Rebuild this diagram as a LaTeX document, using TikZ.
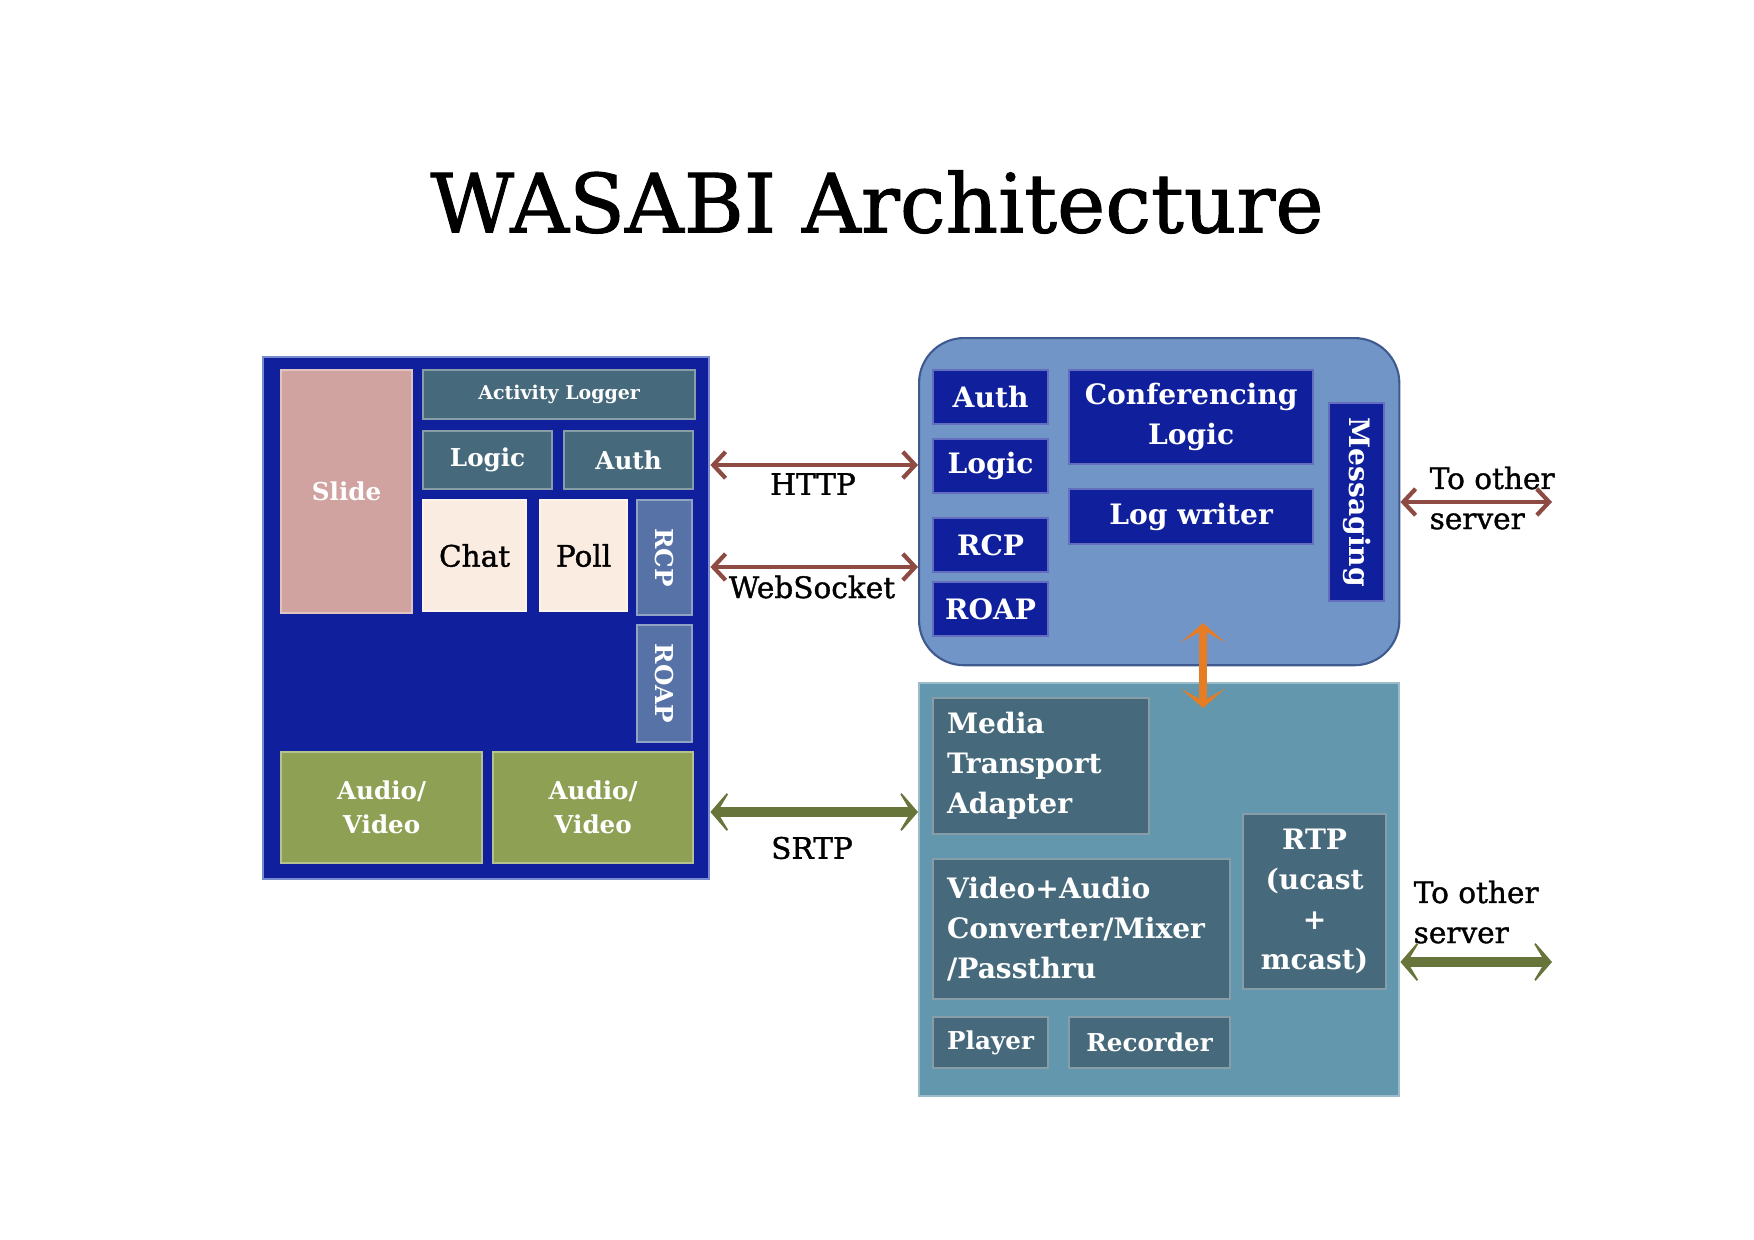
\documentclass[tikz,border=0pt]{standalone}
\usepackage{fontspec}
\setmainfont{DejaVu Serif}
\newfontfamily\heavyserif{DejaVu Serif}[FakeBold=1.2]
\usepackage{graphicx}
\usepackage{xcolor}
\usepackage{tikz}
\usetikzlibrary{arrows.meta, positioning}

\definecolor{clientblue}{RGB}{16,32,156}
\definecolor{clientedge}{RGB}{120,140,205}
\definecolor{slidepink}{RGB}{209,163,160}
\definecolor{slategrey}{RGB}{70,106,123}
\definecolor{chatcream}{RGB}{250,236,224}
\definecolor{protosteel}{RGB}{86,114,166}
\definecolor{avolive}{RGB}{142,160,84}
\definecolor{serverblue}{RGB}{114,149,199}
\definecolor{serveredge}{RGB}{62,90,142}
\definecolor{mediateal}{RGB}{98,151,173}
\definecolor{linkbrown}{RGB}{142,75,67}
\definecolor{linkgreen}{RGB}{104,117,58}
\definecolor{linkorange}{RGB}{230,124,36}

\newcommand{\lblbig}{\bfseries\fontsize{8}{11.4}\selectfont}
\newcommand{\lblmid}{\bfseries\fontsize{7}{9.6}\selectfont}
\newcommand{\lblsmall}{\bfseries\fontsize{5.4}{6.5}\selectfont}
\newcommand{\lbltext}{\heavyserif\fontsize{8.4}{11.4}\selectfont}

\tikzset{
	panel/.style={anchor=north west, inner sep=0pt, fill=#1, draw=#1!65!white, line width=0.6pt, text=white, font=\lblbig, align=center},
	weblink/.style={draw=linkbrown, line width=1.2pt, <->, >={Straight Barb[length=3.5pt,width=7.5pt]}},
	medialink/.style={draw=linkgreen, line width=2.8pt, <->, >={Stealth[length=6.5pt,width=15pt,inset=4.5pt]}},
	corelink/.style={draw=linkorange, line width=2.3pt, <->, >={Stealth[length=5.5pt,width=12.5pt,inset=3.5pt]}},
	linklbl/.style={inner sep=0pt, font=\lbltext, align=left}
}

\begin{document}
\begin{tikzpicture}[x=0.01cm, y=-0.01cm]
	\useasboundingbox (0,0) rectangle (1754,1239);
	% Title:
	\node[font=\heavyserif\fontsize{23.2}{28}\selectfont] (title) at (877,202) {WASABI Architecture};

	% Client side:
	\node[panel=clientblue, draw=clientedge, minimum width=4.46cm, minimum height=5.22cm] (client) at (262,356) {};
	\node[panel=slidepink, font=\lblmid, minimum width=1.31cm, minimum height=2.43cm] (slide) at (280,369) {Slide};
	\node[panel=slategrey, font=\lblsmall, minimum width=2.72cm, minimum height=0.49cm] (actlog) at (422,369) {Activity Logger};
	\node[panel=slategrey, font=\lblmid, minimum width=1.29cm, minimum height=0.58cm] (clogic) at (422,430) {Logic};
	\node[panel=slategrey, font=\lblmid, minimum width=1.29cm, minimum height=0.58cm] (cauth) at (563,430) {Auth};
	\node[panel=chatcream, text=black, font=\lbltext, minimum width=1.03cm, minimum height=1.11cm] (chat) at (422,499) {Chat};
	\node[panel=chatcream, text=black, font=\lbltext, minimum width=0.87cm, minimum height=1.11cm] (poll) at (539,499) {Poll};
	\node[panel=protosteel, font=\lblmid, minimum width=0.55cm, minimum height=1.15cm] (crcp) at (636,499) {\rotatebox{-90}{RCP}};
	\node[panel=protosteel, font=\lblmid, minimum width=0.55cm, minimum height=1.17cm] (croap) at (636,624) {\rotatebox{-90}{ROAP}};
	\node[panel=avolive, font=\lblmid, minimum width=2.01cm, minimum height=1.11cm] (av1) at (280,751) {Audio/\\Video};
	\node[panel=avolive, font=\lblmid, minimum width=2.00cm, minimum height=1.11cm] (av2) at (492,751) {Audio/\\Video};

	% Server side:
	\node[panel=serverblue, draw=serveredge, rounded corners=0.45cm, minimum width=4.80cm, minimum height=3.27cm] (server) at (918,337) {};
	\node[panel=clientblue, minimum width=1.15cm, minimum height=0.54cm] (sauth) at (932,369) {Auth};
	\node[panel=clientblue, minimum width=1.15cm, minimum height=0.54cm] (slogic) at (932,438) {Logic};
	\node[panel=clientblue, minimum width=1.15cm, minimum height=0.54cm] (srcp) at (932,517) {RCP};
	\node[panel=clientblue, minimum width=1.15cm, minimum height=0.54cm] (sroap) at (932,581) {ROAP};
	\node[panel=clientblue, minimum width=2.44cm, minimum height=0.94cm] (conflogic) at (1068,369) {Conferencing\\Logic};
	\node[panel=clientblue, minimum width=2.44cm, minimum height=0.55cm] (logwriter) at (1068,488) {Log writer};
	\node[panel=clientblue, minimum width=0.55cm, minimum height=1.98cm] (msg) at (1328,402) {\rotatebox{-90}{Messaging}};

	% Media server:
	\node[panel=mediateal, minimum width=4.80cm, minimum height=4.13cm] (media) at (918,682) {};
	\node[panel=slategrey, align=left, text width=1.88cm, inner xsep=0.14cm, minimum height=1.36cm] (mta) at (932,697) {Media\\Transport\\Adapter};
	\node[panel=slategrey, align=left, text width=2.69cm, inner xsep=0.14cm, minimum height=1.40cm] (mixer) at (932,858) {Video+Audio\\Converter/Mixer\\/Passthru};
	\node[panel=slategrey, minimum width=1.43cm, minimum height=1.75cm] (rtp) at (1242,813) {RTP\\(ucast\\+\\mcast)};
	\node[panel=slategrey, font=\lblmid, minimum width=1.15cm, minimum height=0.51cm] (player) at (932,1016) {Player};
	\node[panel=slategrey, font=\lblmid, minimum width=1.61cm, minimum height=0.51cm] (recorder) at (1068,1016) {Recorder};

	% Links:
	\coordinate (http) at (0,465);
	\coordinate (ws) at (0,567);
	\coordinate (srtp) at (0,812);
	\coordinate (coretop) at (1203,623);
	\coordinate (corebot) at (1203,708);
	\coordinate (peersig) at (1552,502);
	\coordinate (peermedia) at (1552,962);
	\draw[weblink] (client.east |- http) -- (server.west |- http);
	\draw[weblink] (client.east |- ws) -- (server.west |- ws);
	\draw[medialink] (client.east |- srtp) -- (media.west |- srtp);
	\draw[corelink] (coretop) -- (corebot);
	\draw[weblink] (server.east |- peersig) -- (peersig);
	\draw[medialink] (media.east |- peermedia) -- (peermedia);
	\node[linklbl] (httplbl) at (813,484) {HTTP};
	\node[linklbl] (wslbl) at (812,587) {WebSocket};
	\node[linklbl] (srtplbl) at (812,848) {SRTP};
	\node[linklbl, anchor=west] (peersiglbl) at (1429,498) {To other\\server};
	\node[linklbl, anchor=west] (peermedialbl) at (1413,912) {To other\\server};
\end{tikzpicture}
\end{document}
